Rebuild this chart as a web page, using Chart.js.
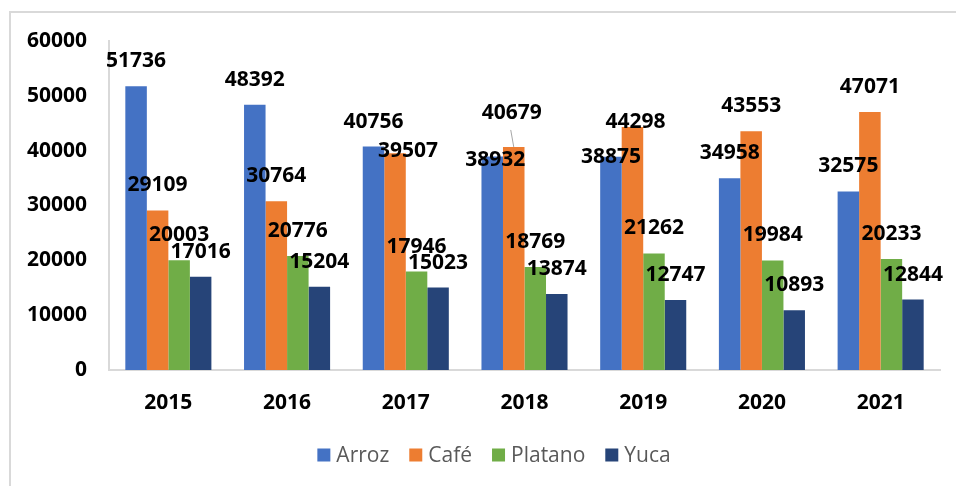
<!DOCTYPE html>
<html>
<head>
<meta charset="utf-8">
<script src="https://cdn.jsdelivr.net/npm/chart.js@4.4.1/dist/chart.umd.min.js"></script>
<style>
  html, body { margin: 0; padding: 0; background: #fff; overflow: hidden; }
  #frame { position: absolute; left: 9px; top: 11px; width: 980px; height: 500px; border: 2px solid #d9d9d9; box-sizing: border-box; }
  #wrap { position: absolute; left: 0; top: 0; width: 956px; height: 486px; }
</style>
</head>
<body>
<div id="frame"></div>
<div id="wrap"><canvas id="c" width="956" height="486"></canvas></div>
<script>
const years = ['2015', '2016', '2017', '2018', '2019', '2020', '2021'];
const arroz   = [51736, 48392, 40756, 38932, 38875, 34958, 32575];
const cafe    = [29109, 30764, 39507, 40679, 44298, 43553, 47071];
const platano = [20003, 20776, 17946, 18769, 21262, 19984, 20233];
const yuca    = [17016, 15204, 15023, 13874, 12747, 10893, 12844];

// label nudges for the hand-placed labels (dataset:index -> px)
const labelNudge = {
  '1:2': { dx: 13, dy: 23 },
  '0:3': { dx: 3, dy: 28 },
  '1:3': { dx: -2, dy: -9, leader: true },
  '0:4': { dx: 0, dy: 25 },
  '1:4': { dx: 3, dy: 20 }
};

const FONT = "'Open Sans', 'DejaVu Sans', sans-serif";

const barLabels = {
  id: 'barLabels',
  afterDatasetsDraw(chart){
    const ctx = chart.ctx;
    ctx.save();
    ctx.font = `700 21px ${FONT}`;
    ctx.fillStyle = '#000';
    ctx.textAlign = 'center';
    ctx.textBaseline = 'middle';
    chart.data.datasets.forEach((ds, di) => {
      const meta = chart.getDatasetMeta(di);
      meta.data.forEach((bar, i) => {
        const n = labelNudge[di + ':' + i] || { dx: 0, dy: 0 };
        const x = bar.x + n.dx;
        const y = bar.y - 25 + n.dy;
        if(n.leader){
          ctx.strokeStyle = '#a6a6a6';
          ctx.lineWidth = 1;
          ctx.beginPath();
          ctx.moveTo(x - 1, y + 17);
          ctx.lineTo(bar.x, bar.y);
          ctx.stroke();
        }
        ctx.fillText(String(ds.data[i]), x, y);
      });
    });
    ctx.restore();
  }
};

const bottomLegend = {
  id: 'bottomLegend',
  afterDraw(chart){
    const ctx = chart.ctx;
    ctx.save();
    ctx.font = `400 21px ${FONT}`;
    ctx.textBaseline = 'middle';
    const box = 13, gapText = 6, gapItem = 20;
    const items = chart.data.datasets.map(ds => ({ label: ds.label, color: ds.backgroundColor, w: box + gapText + ctx.measureText(ds.label).width }));
    const total = items.reduce((s, it) => s + it.w, 0) + gapItem * (items.length - 1);
    let x = 494 - total / 2;
    const y = 455;
    for(const it of items){
      ctx.fillStyle = it.color;
      ctx.fillRect(x, y - box / 2, box, box);
      ctx.fillStyle = '#595959';
      ctx.fillText(it.label, x + box + gapText, y + 1);
      x += it.w + gapItem;
    }
    ctx.restore();
  }
};

new Chart(document.getElementById('c'), {
  type: 'bar',
  data: {
    labels: years,
    datasets: [
      { label: 'Arroz', data: arroz, backgroundColor: '#4472C4' },
      { label: 'Café', data: cafe, backgroundColor: '#ED7D31' },
      { label: 'Platano', data: platano, backgroundColor: '#70AD47' },
      { label: 'Yuca', data: yuca, backgroundColor: '#264478' }
    ]
  },
  options: {
    responsive: false,
    animation: false,
    devicePixelRatio: 1,
    layout: { padding: { left: 0, right: 16, top: 41, bottom: 66 } },
    datasets: { bar: { categoryPercentage: 0.725, barPercentage: 1.0, borderWidth: 0 } },
    plugins: { legend: { display: false }, tooltip: { enabled: false } },
    scales: {
      x: {
        grid: { display: false, drawTicks: false },
        border: { display: true, color: '#d9d9d9', width: 2 },
        ticks: { color: '#000', font: { family: FONT, size: 21, weight: '700' }, padding: 20, maxRotation: 0 },
        afterFit(s){ s.height = 50; }
      },
      y: {
        min: 0, max: 60000,
        grid: { display: false, drawTicks: false },
        border: { display: true, color: '#d9d9d9', width: 2 },
        ticks: { stepSize: 10000, color: '#000', font: { family: FONT, size: 21, weight: '700' }, padding: 22, callback: v => String(v) },
        afterFit(s){ s.width = 109; }
      }
    }
  },
  plugins: [barLabels, bottomLegend]
});
</script>
</body>
</html>
